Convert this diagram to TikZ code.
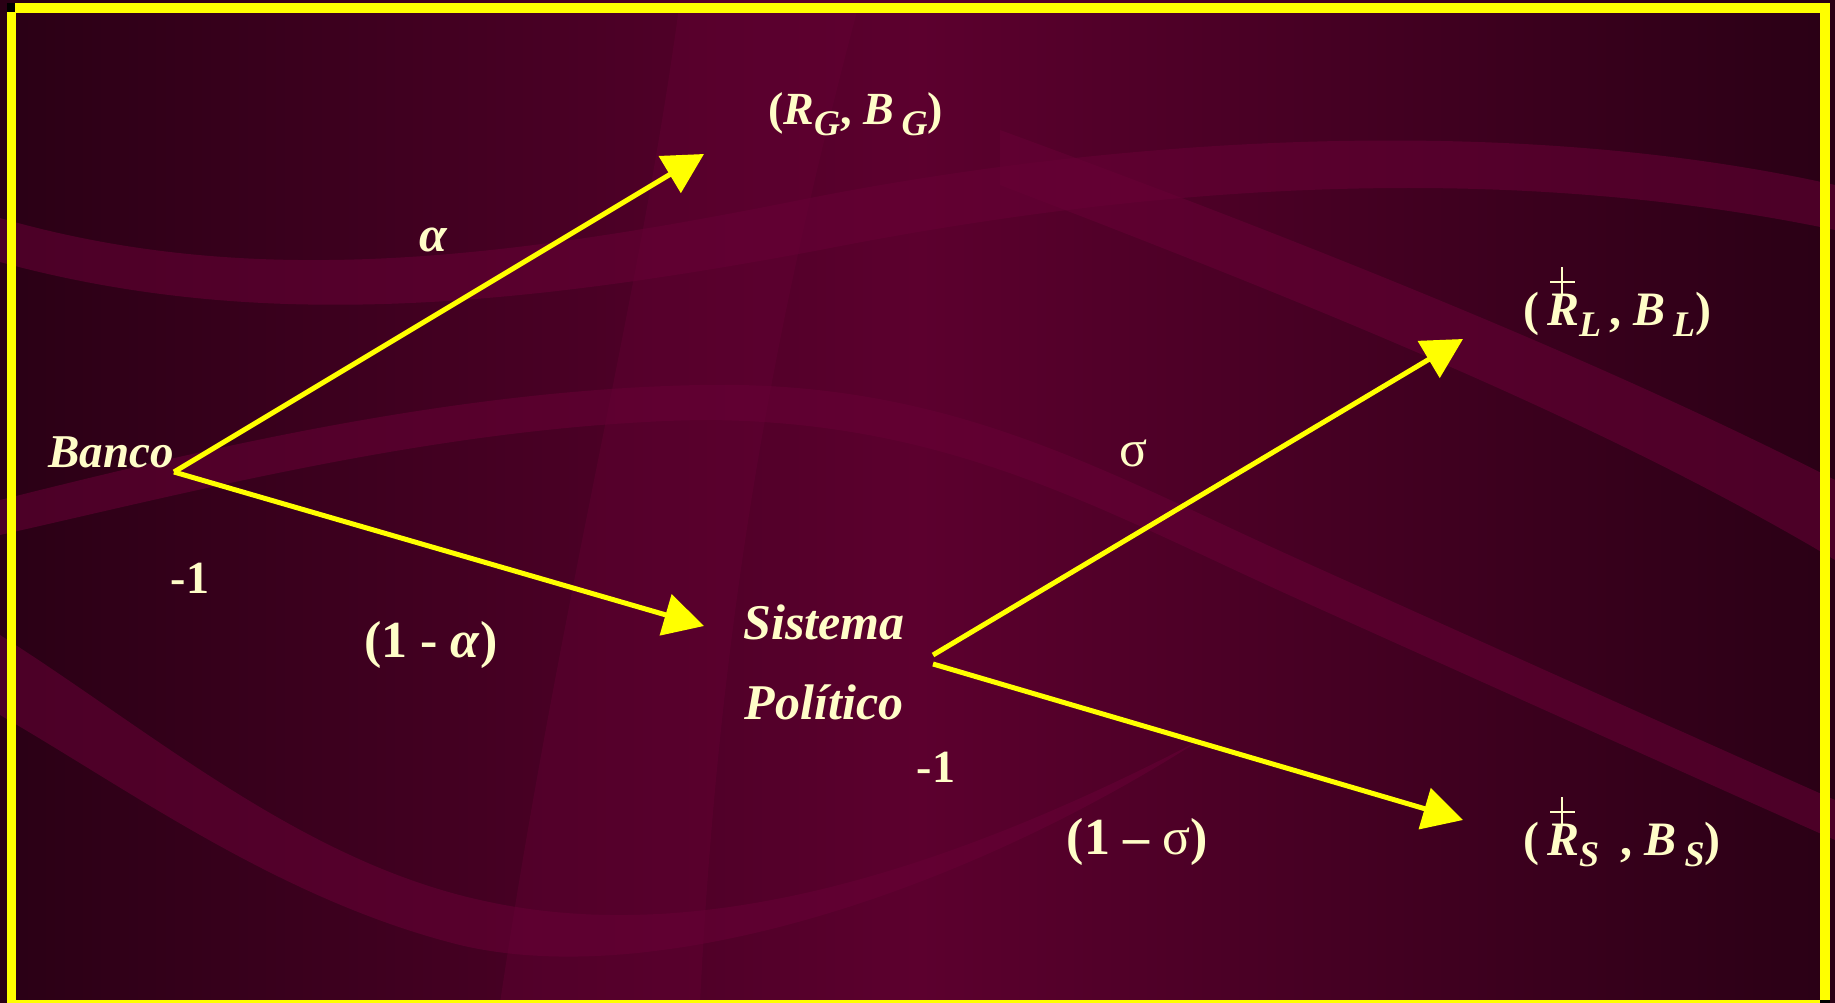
\documentclass[tikz,border=0pt]{standalone}
\usepackage{fontspec}
\setmainfont{Liberation Serif}
\usetikzlibrary{arrows.meta}
\definecolor{bgdark}{HTML}{2A0015}
\definecolor{bgmid}{HTML}{5C002E}
\definecolor{ribbon}{HTML}{680036}
\definecolor{cream}{HTML}{FFFDC8}
\definecolor{frameyellow}{HTML}{FFFF00}
\newcommand{\bix}[1]{\textbf{\textit{#1}}}
\newcommand{\lowsub}[1]{\raisebox{-11pt}{\fontsize{36}{36}\selectfont\bix{#1}}}
\begin{document}
\begin{tikzpicture}[x=1pt,y=-1pt,
  lbl/.style={text=cream, inner sep=0pt, font=\fontsize{46}{56}\selectfont\bfseries},
  pay/.style={text=cream, inner sep=0pt, font=\fontsize{46}{52}\selectfont\bfseries},
  arr/.style={draw=frameyellow, line width=5pt, -{Triangle[length=40pt,width=42pt]}},
  band/.style={fill=ribbon, opacity=0.55},
  crossline/.style={draw=cream, line width=2.5pt}
]
\useasboundingbox (0,0) rectangle (1835,1003);
% background
\shade[left color=bgdark, right color=bgdark, middle color=bgmid] (0,0) rectangle (1835,1003);
% ribbons
\fill[band] (0,218) .. controls (250,290) and (500,260) .. (800,200) .. controls (1100,140) and (1500,110) .. (1835,185)
  -- (1835,230) .. controls (1500,160) and (1150,185) .. (820,250) .. controls (500,310) and (250,330) .. (0,262) -- cycle;
\fill[band] (0,500) .. controls (200,450) and (450,390) .. (700,385) .. controls (950,380) and (1100,470) .. (1300,560)
  .. controls (1500,650) and (1700,740) .. (1835,800)
  -- (1835,840) .. controls (1700,780) and (1500,690) .. (1300,600) .. controls (1100,510) and (950,420) .. (700,420)
  .. controls (450,425) and (200,490) .. (0,535) -- cycle;
\fill[band] (0,635) .. controls (150,730) and (300,860) .. (480,900) .. controls (700,950) and (950,870) .. (1200,740)
  .. controls (950,900) and (650,990) .. (460,945) .. controls (280,900) and (130,790) .. (0,715) -- cycle;
\fill[band] (1000,130) .. controls (1300,240) and (1600,360) .. (1835,480)
  -- (1835,560) .. controls (1600,420) and (1300,300) .. (1000,185) -- cycle;
\fill[band, opacity=0.35] (680,0) .. controls (640,300) and (560,600) .. (500,1003) -- (700,1003) .. controls (720,600) and (780,300) .. (860,0) -- cycle;
% frame
\fill[frameyellow] (15,3) rectangle (1830,13);
\fill[frameyellow] (7,12) rectangle (16,1003);
\fill[frameyellow] (1820,3) rectangle (1830,1000);
\fill[frameyellow] (16,1000) rectangle (1820,1003);
\fill[black] (7,3) rectangle (15,12);
\fill[black] (1820,1000) rectangle (1830,1003);

% nodes
\node[lbl, anchor=base west, font=\fontsize{47}{56}\selectfont\bfseries] (banco) at (48,467) {\textit{Banco}};
\node[lbl, anchor=center, align=center, font=\fontsize{50}{80}\selectfont\bfseries] (sp) at (824,662) {\textit{Sistema}\\\textit{Político}};
\node[pay, anchor=base west] (rg) at (768,125) {(\bix{R}\lowsub{G}, \bix{B}\,\lowsub{G})};
\node[pay, anchor=base west, font=\fontsize{48}{52}\selectfont\bfseries] (rl) at (1523,325) {(\,\bix{R}\lowsub{L}\,, \bix{B}\,\lowsub{L})};
\node[pay, anchor=base west, font=\fontsize{48}{52}\selectfont\bfseries] (rs) at (1523,855) {(\,\bix{R}\lowsub{S}\;\,, \bix{B}\,\lowsub{S})};
% crosses above R
\draw[crossline] (1562,267) -- (1562,294);
\draw[crossline] (1550,282) -- (1575,282);
\draw[crossline] (1562,797) -- (1562,824);
\draw[crossline] (1550,812) -- (1575,812);

% branch labels
\node[lbl, font=\fontsize{50}{56}\selectfont\bfseries] (la) at (434,240) {\textit{α}};
\node[lbl] (lm1a) at (190,578) {-1};
\node[lbl, font=\fontsize{52}{56}\selectfont\bfseries] (l1a) at (431,645) {(1 - \textit{α})};
\node[lbl, font=\fontsize{52}{56}\selectfont] (ls) at (1133,453) {σ};
\node[lbl] (lm1b) at (936,767) {-1};
\node[lbl, font=\fontsize{52}{56}\selectfont\bfseries] (l1s) at (1137,842) {(1 – {\mdseries σ})};

% connector ends
\coordinate (b0) at (174,472);
\coordinate (tg) at (704,154);
\coordinate (tsp) at (704,626);
\coordinate (s1) at (933,655);
\coordinate (s2) at (933,664);
\coordinate (tl) at (1463,339);
\coordinate (ts) at (1463,820);

\draw[arr] (b0) -- (tg);
\draw[arr] (b0) -- (tsp);
\draw[arr] (s1) -- (tl);
\draw[arr] (s2) -- (ts);
\end{tikzpicture}
\end{document}
